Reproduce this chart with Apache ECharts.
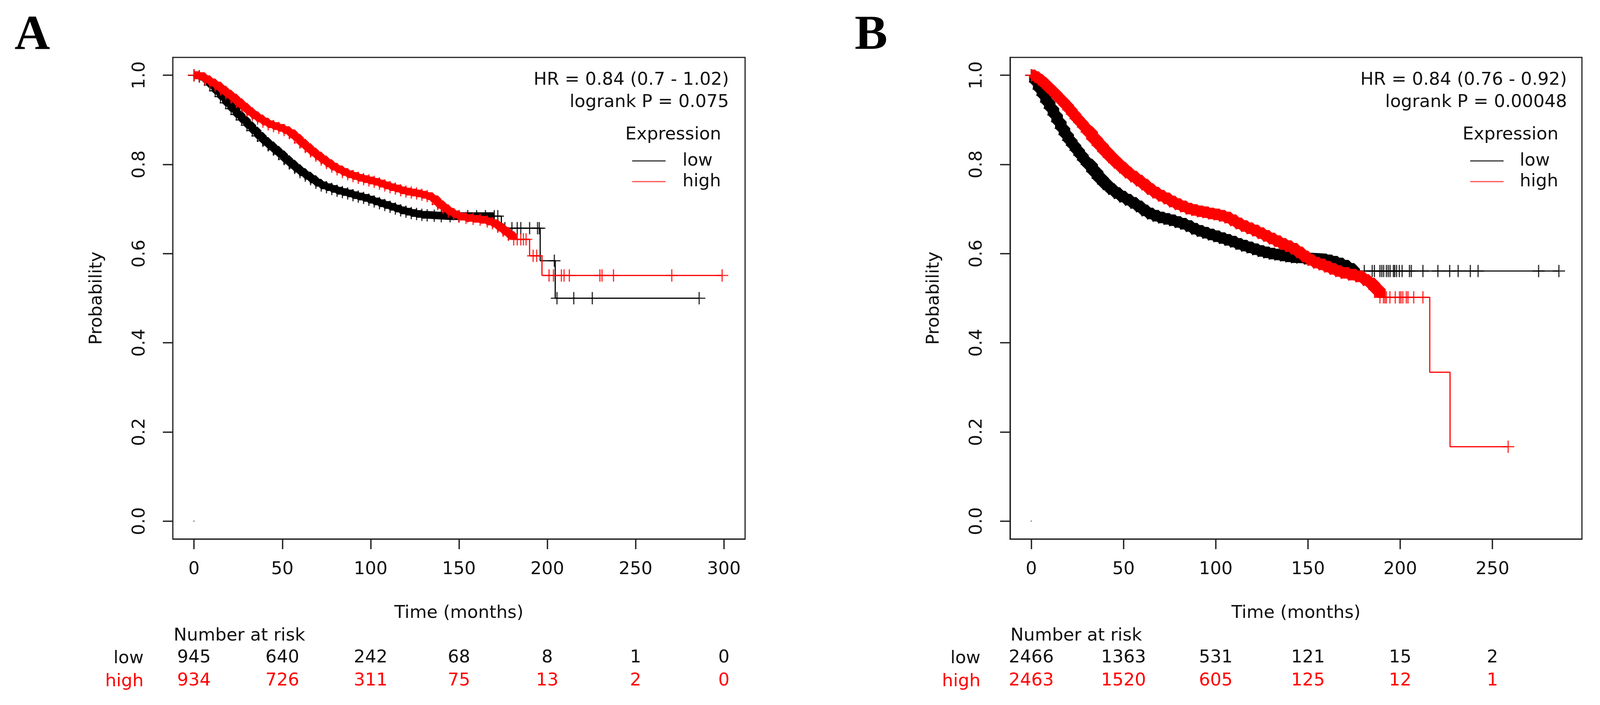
<!DOCTYPE html>
<html><head><meta charset="utf-8">
<script src="https://cdn.jsdelivr.net/npm/echarts@6/dist/echarts.min.js"></script>
<style>html,body{margin:0;padding:0;background:#fff;overflow:hidden}#c{width:100vw;height:100vh}</style>
</head><body><div id="c"></div>
<script>
// ---------------- data ----------------
const timeTicksA = [0, 50, 100, 150, 200, 250, 300];
const timeTicksB = [0, 50, 100, 150, 200, 250];
const probTicks = [0, 0.2, 0.4, 0.6, 0.8, 1.0];
const riskLowA = [945, 640, 242, 68, 8, 1, 0];
const riskHighA = [934, 726, 311, 75, 13, 2, 0];
const riskLowB = [2466, 1363, 531, 121, 15, 2];
const riskHighB = [2463, 1520, 605, 125, 12, 1];
const statsA = ['HR = 0.84 (0.7 - 1.02)', 'logrank P = 0.075'];
const statsB = ['HR = 0.84 (0.76 - 0.92)', 'logrank P = 0.00048'];

// Kaplan-Meier step vertices [time, survival]
const lowA = [[0,1.0],[3,0.997],[6,0.990],[9,0.978],[12,0.965],[15,0.952],[18,0.938],[21,0.925],[24,0.912],[27,0.900],[30,0.888],[33,0.876],[36,0.864],[39,0.853],[42,0.843],[45,0.833],[48,0.823],[51,0.812],[54,0.802],[57,0.792],[60,0.783],[63,0.775],[66,0.767],[69,0.759],[72,0.753],[75,0.749],[78,0.745],[81,0.741],[84,0.738],[87,0.735],[90,0.731],[93,0.728],[96,0.725],[99,0.721],[102,0.717],[105,0.713],[108,0.709],[111,0.705],[114,0.701],[117,0.697],[120,0.694],[123,0.691],[126,0.689],[129,0.687],[132,0.686],[136,0.685],[140,0.684],[145,0.684],[150,0.684],[155,0.684],[160,0.684],[165,0.684],[170,0.684],[174,0.657],[196,0.584],[204.5,0.5],[286,0.5]];
const highA = [[0,1.0],[3,0.998],[6,0.991],[9,0.984],[12,0.977],[15,0.968],[18,0.959],[21,0.950],[24,0.940],[27,0.930],[30,0.920],[33,0.911],[36,0.903],[39,0.896],[42,0.890],[45,0.886],[48,0.882],[51,0.877],[54,0.870],[57,0.860],[60,0.849],[63,0.839],[66,0.829],[69,0.820],[72,0.811],[75,0.803],[78,0.795],[81,0.789],[84,0.783],[87,0.778],[90,0.774],[93,0.770],[96,0.767],[99,0.764],[102,0.761],[105,0.757],[108,0.753],[111,0.749],[114,0.746],[117,0.742],[120,0.739],[123,0.737],[126,0.735],[129,0.732],[132,0.729],[135,0.722],[138,0.711],[141,0.702],[144,0.694],[147,0.688],[150,0.683],[154,0.680],[158,0.678],[162,0.676],[166,0.672],[169,0.668],[172,0.660],[175,0.651],[178,0.642],[181,0.632],[190,0.595],[197,0.551],[299,0.551]];
const lowB = [[0,1.0],[2,0.985],[4,0.969],[6,0.955],[8,0.940],[10,0.926],[12,0.911],[14,0.896],[16,0.881],[18,0.867],[20,0.854],[22,0.843],[24,0.832],[26,0.821],[28,0.810],[30,0.800],[33,0.784],[36,0.769],[39,0.756],[42,0.745],[45,0.736],[48,0.728],[51,0.721],[54,0.714],[57,0.706],[60,0.697],[63,0.690],[66,0.685],[69,0.681],[72,0.678],[75,0.675],[78,0.671],[81,0.667],[84,0.662],[87,0.656],[90,0.651],[93,0.647],[96,0.643],[99,0.639],[102,0.635],[105,0.631],[108,0.627],[111,0.622],[114,0.618],[117,0.614],[120,0.610],[123,0.606],[126,0.603],[129,0.600],[132,0.598],[135,0.596],[138,0.594],[141,0.592],[144,0.591],[148,0.589],[152,0.588],[156,0.587],[160,0.585],[163,0.582],[166,0.578],[169,0.573],[172,0.566],[175,0.561],[286,0.561]];
const highB = [[0,1.0],[2,0.996],[4,0.990],[6,0.983],[8,0.975],[10,0.967],[12,0.959],[14,0.950],[16,0.942],[18,0.933],[20,0.923],[22,0.913],[24,0.903],[26,0.894],[28,0.884],[30,0.873],[33,0.857],[36,0.843],[39,0.829],[42,0.816],[45,0.804],[48,0.793],[51,0.782],[54,0.773],[57,0.764],[60,0.755],[63,0.745],[66,0.737],[69,0.730],[72,0.724],[75,0.717],[78,0.711],[81,0.706],[84,0.701],[87,0.698],[90,0.695],[93,0.693],[96,0.690],[99,0.688],[102,0.685],[105,0.681],[108,0.675],[111,0.668],[114,0.662],[117,0.657],[120,0.652],[123,0.646],[126,0.640],[129,0.634],[132,0.628],[135,0.622],[138,0.617],[141,0.611],[144,0.603],[147,0.594],[150,0.586],[153,0.580],[156,0.576],[159,0.571],[162,0.566],[165,0.561],[168,0.557],[172,0.553],[176,0.549],[180,0.541],[183,0.533],[186,0.520],[189,0.502],[216,0.334],[227,0.167],[258.5,0.167]];

// end of the densely censored stretch of each curve (months)
const denseEndLowA = 172, denseEndHighA = 181, denseEndLowB = 175, denseEndHighB = 189;
// sparse censor marks in the tails [time, survival]
const censorLowA = [[172,0.684],[176,0.657],[180,0.657],[183,0.657],[185,0.657],[190,0.657],[194.5,0.657],[195.5,0.657],[204,0.584],[205.5,0.5],[215,0.5],[225.5,0.5],[286,0.5]];
const censorHighA = [[183,0.632],[185,0.632],[186.5,0.632],[188,0.632],[192,0.595],[194,0.595],[201,0.551],[203.5,0.551],[208,0.551],[209.5,0.551],[212.5,0.551],[229.8,0.551],[231,0.551],[237.5,0.551],[270.5,0.551],[299,0.551]];
const censorLowB = [[176,0.561],[180.5,0.561],[184.8,0.561],[186,0.561],[189,0.561],[190,0.561],[191,0.561],[192.5,0.561],[193.5,0.561],[194.5,0.561],[196.3,0.561],[197,0.561],[198,0.561],[199.5,0.561],[201,0.561],[205,0.561],[206,0.561],[212.3,0.561],[220.4,0.561],[226.8,0.561],[231.4,0.561],[238,0.561],[242.2,0.561],[275,0.561],[286,0.561]];
const censorHighB = [[190.9,0.502],[191.7,0.502],[192.5,0.502],[194.4,0.502],[197.3,0.502],[199.6,0.502],[200.4,0.502],[201.4,0.502],[203.3,0.502],[204.2,0.502],[207.3,0.502],[212.3,0.502],[258.5,0.167]];
const originDot = [[0, 0]];

// ---------------- layout (designed for 4166 x 1805, scaled to the viewport) ----------------
const W = window.innerWidth || 4166, H = window.innerHeight || 1805;
const SX = W / 4166, SY = H / 1805, S = Math.min(SX, SY);
const X = v => v * SX, Y = v => v * SY, F = v => v * S;

const FONT = 'DejaVu Sans';
const FS = F(46);
const INK = '#111';
const RED = '#ff0000';
const FRAME = '#222';
const CROSS = 'path://M-1.6,-16 L1.6,-16 L1.6,-1.6 L16,-1.6 L16,1.6 L1.6,1.6 L1.6,16 L-1.6,16 L-1.6,1.6 L-16,1.6 L-16,-1.6 L-1.6,-1.6 Z';
const xRangeA = [-12, 312], xRangeB = [-11.5, 298.5], yRange = [-0.04, 1.04];

const grids = [
  {left: X(450), top: Y(147), width: X(1490), height: Y(1233)},
  {left: X(2630), top: Y(147), width: X(1489), height: Y(1233)}
].map(g => Object.assign(g, {show: true, borderColor: FRAME, borderWidth: F(3), backgroundColor: 'transparent'}));

function xAxes(gi, range, ticks, rLow, rHigh) {
  const base = {gridIndex: gi, type: 'value', min: range[0], max: range[1], splitLine: {show: false}, position: 'bottom'};
  return [
    Object.assign({}, base, {
      axisLine: {show: true, onZero: false, lineStyle: {color: FRAME, width: F(3)}},
      axisTick: {show: true, inside: false, length: Y(26), customValues: ticks, lineStyle: {color: FRAME, width: F(3.5)}},
      axisLabel: {customValues: ticks, margin: Y(56), fontSize: FS, fontFamily: FONT, color: INK},
      name: 'Time (months)', nameLocation: 'middle', nameGap: Y(168),
      nameTextStyle: {fontSize: FS, fontFamily: FONT, color: INK}
    }),
    Object.assign({}, base, {
      axisLine: {show: false, onZero: false}, axisTick: {show: false},
      axisLabel: {customValues: ticks, margin: Y(282), fontSize: FS, fontFamily: FONT, color: INK,
        formatter: v => String(rLow[ticks.indexOf(v)])}
    }),
    Object.assign({}, base, {
      axisLine: {show: false, onZero: false}, axisTick: {show: false},
      axisLabel: {customValues: ticks, margin: Y(341), fontSize: FS, fontFamily: FONT, color: RED,
        formatter: v => String(rHigh[ticks.indexOf(v)])}
    })
  ];
}
function yAxis(gi) {
  return {
    gridIndex: gi, type: 'value', min: yRange[0], max: yRange[1], splitLine: {show: false},
    axisLine: {show: true, onZero: false, lineStyle: {color: FRAME, width: F(3)}},
    axisTick: {show: true, inside: false, length: X(26), customValues: probTicks, lineStyle: {color: FRAME, width: F(3.5)}},
    axisLabel: {customValues: probTicks, rotate: 90, margin: X(63), fontSize: FS, fontFamily: FONT, color: INK,
      formatter: v => v.toFixed(1)},
    name: 'Probability', nameLocation: 'middle', nameRotate: 90, nameGap: X(175),
    nameTextStyle: {fontSize: FS, fontFamily: FONT, color: INK}
  };
}

function panelSeries(gi, low, high, dLow, dHigh, cLow, cHigh, bandW) {
  const xi = gi * 3, yi = gi;
  const common = {xAxisIndex: xi, yAxisIndex: yi, animation: false, silent: true};
  const denseLow = low.filter(p => p[0] <= dLow), denseHigh = high.filter(p => p[0] <= dHigh);
  return [
    Object.assign({type: 'scatter', data: originDot, symbol: 'circle', symbolSize: F(4), itemStyle: {color: '#777'}, z: 1}, common),
    Object.assign({type: 'line', step: 'end', data: low, showSymbol: false, lineStyle: {color: '#000', width: F(3)}, z: 2}, common),
    Object.assign({type: 'line', step: 'end', data: denseLow, showSymbol: false, lineStyle: {color: '#000', width: F(bandW)}, z: 2}, common),
    Object.assign({type: 'scatter', data: denseLow.concat(cLow), symbol: CROSS, symbolSize: F(32),
      itemStyle: {color: '#000'}, z: 3}, common),
    Object.assign({type: 'line', step: 'end', data: high, showSymbol: false, lineStyle: {color: RED, width: F(3)}, z: 4}, common),
    Object.assign({type: 'line', step: 'end', data: denseHigh, showSymbol: false, lineStyle: {color: RED, width: F(bandW)}, z: 4}, common),
    Object.assign({type: 'scatter', data: denseHigh.concat(cHigh), symbol: CROSS, symbolSize: F(32),
      itemStyle: {color: RED}, z: 5}, common)
  ];
}

function txt(text, x, y, align, color, font) {
  return {type: 'text', silent: true, style: {text: text, x: X(x), y: Y(y), textAlign: align, textVerticalAlign: 'middle',
    fill: color || INK, font: font || (FS + 'px "' + FONT + '"')}};
}
function panelGraphics(p) {
  return [
    txt(p.letter, p.letterX, 92, 'center', '#000', 'bold ' + F(128) + 'px "Liberation Serif"'),
    txt(p.stats[0], p.statsR, 205, 'right'),
    txt(p.stats[1], p.statsR, 262, 'right'),
    txt('Expression', p.exprC, 345, 'center'),
    {type: 'line', silent: true, shape: {x1: X(p.legL), y1: Y(412), x2: X(p.legL + 87), y2: Y(412)}, style: {stroke: '#333', lineWidth: F(3)}},
    {type: 'line', silent: true, shape: {x1: X(p.legL), y1: Y(465), x2: X(p.legL + 87), y2: Y(465)}, style: {stroke: '#ff5050', lineWidth: F(3)}},
    txt('low', p.legT, 412, 'left'),
    txt('high', p.legT, 465, 'left'),
    txt('Number at risk', p.boxL, 1628, 'left'),
    txt('low', p.rowR, 1686, 'right'),
    txt('high', p.rowR, 1745, 'right', RED)
  ];
}

const graphics = panelGraphics({letter: 'A', letterX: 84, stats: statsA, statsR: 1898, exprC: 1753, legL: 1646, legT: 1777, boxL: 452, rowR: 374})
  .concat(panelGraphics({letter: 'B', letterX: 2268, stats: statsB, statsR: 4080, exprC: 3933, legL: 3828, legT: 3957, boxL: 2631, rowR: 2553}));

const chart = echarts.init(document.getElementById('c'), null, {renderer: 'canvas'});
chart.setOption({
  animation: false,
  backgroundColor: '#fff',
  grid: grids,
  xAxis: xAxes(0, xRangeA, timeTicksA, riskLowA, riskHighA).concat(xAxes(1, xRangeB, timeTicksB, riskLowB, riskHighB)),
  yAxis: [yAxis(0), yAxis(1)],
  series: panelSeries(0, lowA, highA, denseEndLowA, denseEndHighA, censorLowA, censorHighA, 20)
    .concat(panelSeries(1, lowB, highB, denseEndLowB, denseEndHighB, censorLowB, censorHighB, 30)),
  graphic: graphics
});
</script></body></html>
